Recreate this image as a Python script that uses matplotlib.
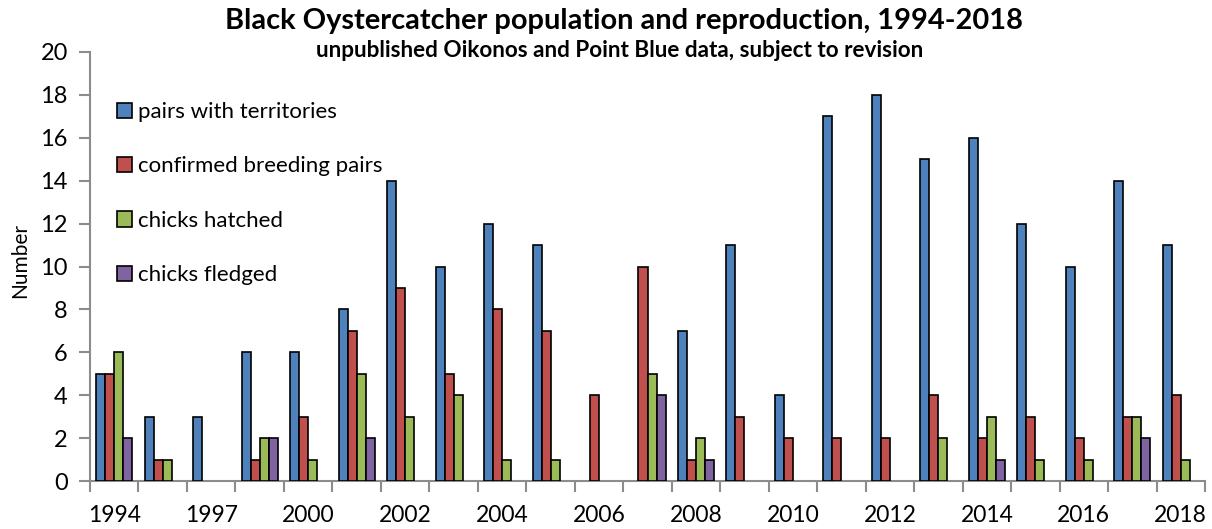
import numpy as np
import matplotlib
matplotlib.use("Agg")
import matplotlib.pyplot as plt
from matplotlib.patches import Patch

plt.rcParams['font.family'] = ['Lato', 'DejaVu Sans']

# Survey seasons (two early seasons carry no axis label)
years = ["1994", "1995", "1997", "1998", "2000", "2001", "2002", "2003", "2004",
         "2005", "2006", "2007", "2008", "2009", "2010", "2011", "2012", "2013",
         "2014", "2015", "2016", "2017", "2018"]

pairs_with_territories = [5, 3, 3, 6, 6, 8, 14, 10, 12, 11, 0, 0, 7, 11, 4, 17, 18,
                          15, 16, 12, 10, 14, 11]
confirmed_breeding_pairs = [5, 1, 0, 1, 3, 7, 9, 5, 8, 7, 4, 10, 1, 3, 2, 2, 2,
                            4, 2, 3, 2, 3, 4]
chicks_hatched = [6, 1, 0, 2, 1, 5, 3, 4, 1, 1, 0, 5, 2, 0, 0, 0, 0,
                  2, 3, 1, 1, 3, 1]
chicks_fledged = [2, 0, 0, 2, 0, 2, 0, 0, 0, 0, 0, 4, 1, 0, 0, 0, 0,
                  0, 1, 0, 0, 2, 0]

series_names = ["pairs with territories", "confirmed breeding pairs",
                "chicks hatched", "chicks fledged"]
series_values = [pairs_with_territories, confirmed_breeding_pairs,
                 chicks_hatched, chicks_fledged]
colors = ["#4F81BD", "#C0504D", "#9BBB59", "#8064A2"]

W, H = 1212, 529
fig = plt.figure(figsize=(W / 100, H / 100), dpi=100)
ax_left, ax_right, ax_top, ax_bottom = 90, 1205, 52, 481
ax = fig.add_axes([ax_left / W, (H - ax_bottom) / H,
                   (ax_right - ax_left) / W, (ax_bottom - ax_top) / H])

n = len(years)
bar_w = 0.186
x0 = np.arange(n) + 0.5 - 2 * bar_w
for j, (vals, col) in enumerate(zip(series_values, colors)):
    vals = np.asarray(vals, dtype=float)
    keep = vals > 0  # empty values leave no bar
    ax.bar(x0[keep] + j * bar_w, vals[keep], width=bar_w, align="edge",
           color=col, edgecolor="black", linewidth=1.2, zorder=3)

ax.set_xlim(0, n)
ax.set_ylim(0, 20)

# category labels on every other season, tick marks between categories
ax.set_xticks(np.arange(n) + 0.5)
ax.set_xticklabels([y if i % 2 == 0 else "" for i, y in enumerate(years)])
ax.set_xticks(np.arange(n + 1), minor=True)
ax.tick_params(axis="x", which="major", length=0, pad=17, labelsize=16.5)
ax.tick_params(axis="x", which="minor", length=8, width=1.5, color="#8c8c8c",
               direction="out")
ax.set_yticks(np.arange(0, 21, 2))
ax.tick_params(axis="y", length=8, width=1.5, color="#8c8c8c", pad=8,
               labelsize=17, direction="out")

for side in ("top", "right"):
    ax.spines[side].set_visible(False)
for side in ("left", "bottom"):
    ax.spines[side].set_color("#8c8c8c")
    ax.spines[side].set_linewidth(1.5)

fig.text(20 / W, 1 - 260 / H, "Number", rotation=90, ha="center", va="center",
         fontsize=15)

fig.text(624 / W, 1 - 29 / H, "Black Oystercatcher population and reproduction, 1994-2018",
         ha="center", va="baseline", fontsize=20.9, fontweight="bold")
fig.text(620 / W, 1 - 57 / H, "unpublished Oikonos and Point Blue data, subject to revision",
         ha="center", va="baseline", fontsize=16.2, fontweight="bold")

handles = [Patch(facecolor=c, edgecolor="black", linewidth=1.2) for c in colors]
ax.legend(handles, series_names, loc="upper left",
          bbox_to_anchor=(27 / (ax_right - ax_left), 1 - 50 / (ax_bottom - ax_top)),
          frameon=False, fontsize=16, handlelength=0.68, handleheight=0.68,
          handletextpad=0.27, labelspacing=1.55, borderaxespad=0, borderpad=0)

fig.savefig("out.png", dpi=100)
